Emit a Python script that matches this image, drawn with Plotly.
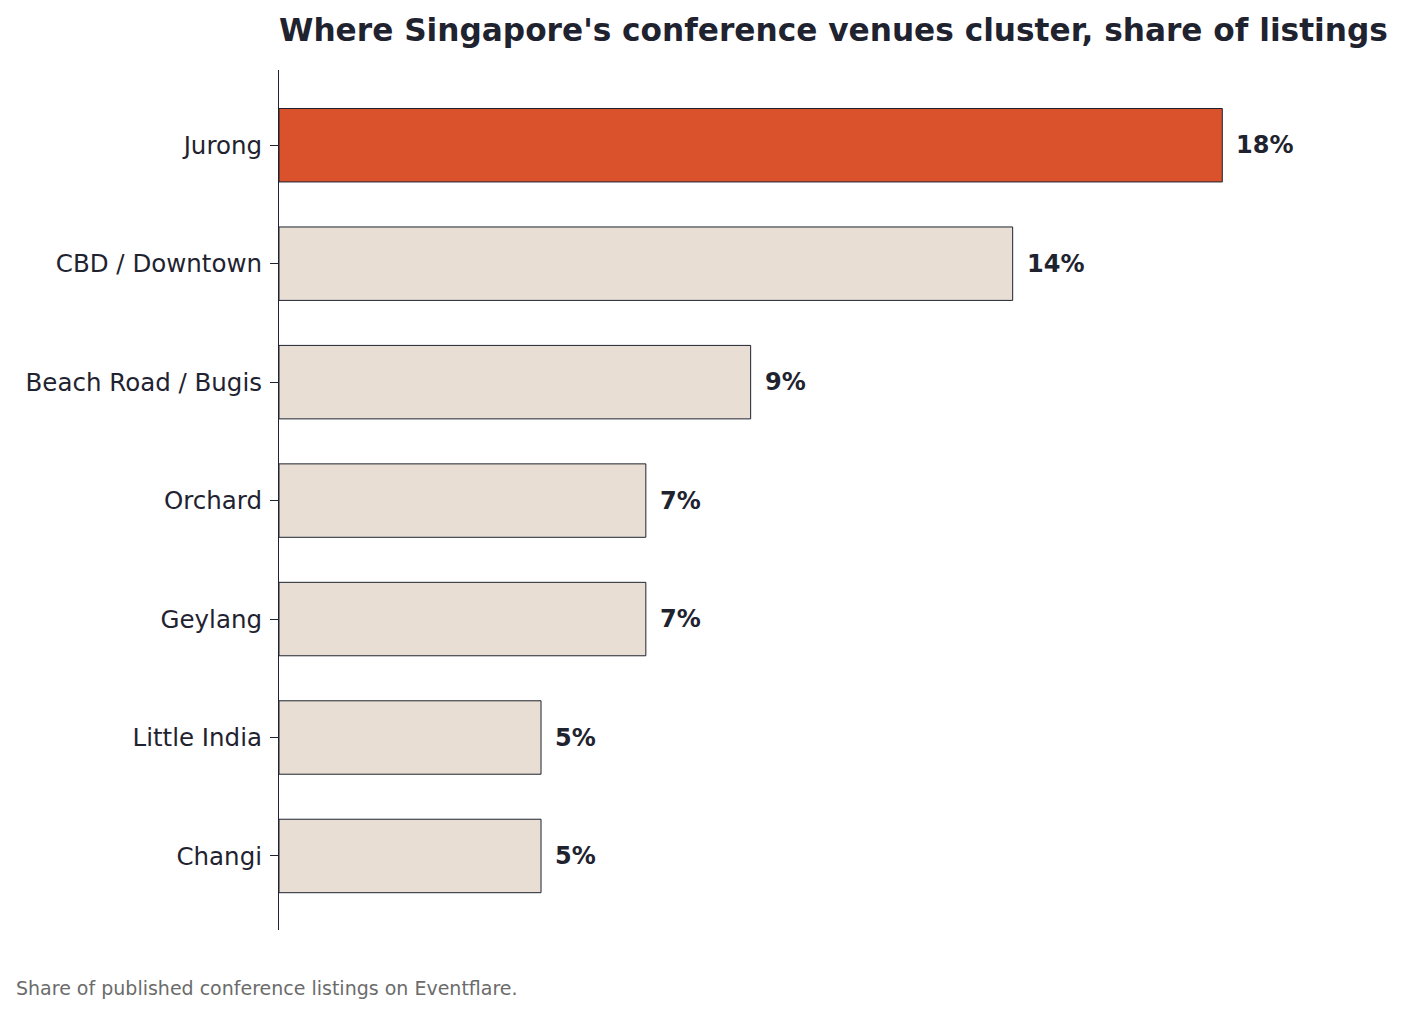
import plotly.graph_objects as go

categories = ["Jurong", "CBD / Downtown", "Beach Road / Bugis", "Orchard", "Geylang", "Little India", "Changi"]
shares = [18, 14, 9, 7, 7, 5, 5]
value_labels = ["18%", "14%", "9%", "7%", "7%", "5%", "5%"]
highlight = "Jurong"

ORANGE = "#D9522C"
BEIGE = "#E8DED4"
INK = "#1F2330"

colors = [ORANGE if c == highlight else BEIGE for c in categories]

W, H = 1402, 1014
L, R, T, B = 279, 12, 70, 84
pw = W - L - R
ph = H - T - B

fig = go.Figure()
fig.add_trace(go.Bar(
    y=categories, x=shares, orientation="h",
    marker=dict(color=colors, line=dict(color=INK, width=1)),
    width=0.62, hoverinfo="skip",
))

for c, v, t in zip(categories, shares, value_labels):
    fig.add_annotation(x=v, y=c, text=f"<b>{t}</b>", showarrow=False,
                       xanchor="left", yanchor="middle", xshift=12,
                       font=dict(family="DejaVu Sans", size=24, color=INK))

fig.add_annotation(xref="paper", yref="paper",
                   x=(14 - L) / pw, y=-(988 - (T + ph)) / ph,
                   text="Share of published conference listings on Eventflare.",
                   showarrow=False, xanchor="left", yanchor="middle",
                   font=dict(family="DejaVu Sans", size=19, color="#6B6B6B"))

fig.update_layout(
    width=W, height=H,
    margin=dict(l=L, r=R, t=T, b=B),
    paper_bgcolor="white", plot_bgcolor="white",
    showlegend=False,
    title=dict(text="<b>Where Singapore's conference venues cluster, share of listings</b>",
               x=0, xref="paper", xanchor="left",
               y=1 - 30 / H, yref="container", yanchor="middle",
               font=dict(family="DejaVu Sans", size=31.2, color=INK)),
    xaxis=dict(range=[0, 21.2], visible=False, fixedrange=True),
    yaxis=dict(autorange=False, range=[6.625, -0.635], categoryorder="array",
               categoryarray=categories,
               showline=True, linecolor=INK, linewidth=1.2,
               ticks="outside", ticklen=8, tickcolor=INK, tickwidth=1.2,
               ticklabelstandoff=3,
               showgrid=False, zeroline=False,
               tickfont=dict(family="DejaVu Sans", size=24.5, color=INK)),
)

fig.write_html("out.html")
